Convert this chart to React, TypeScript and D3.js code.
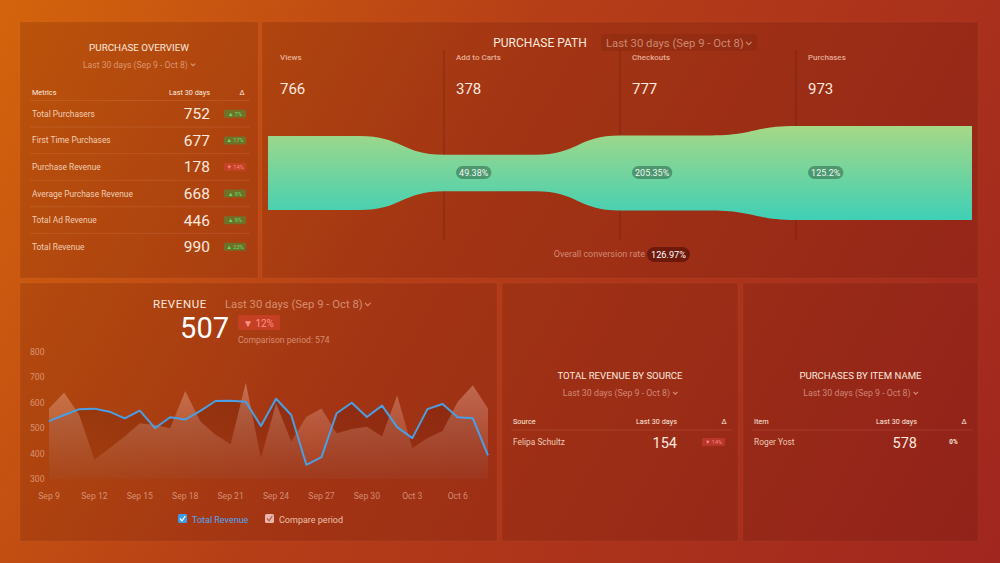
import React from 'react'
import * as d3 from 'd3'

// Purchase overview table
const overviewMetrics = ['Total Purchasers', 'First Time Purchases', 'Purchase Revenue', 'Average Purchase Revenue', 'Total Ad Revenue', 'Total Revenue']
const overviewValues = [752, 677, 178, 668, 446, 990]
const overviewDeltas = [7, 17, -14, 9, 9, 23]

// Purchase path funnel
const pathStages = ['Views', 'Add to Carts', 'Checkouts', 'Purchases']
const pathValues = [766, 378, 777, 973]
const pathRates = ['', '49.38%', '205.35%', '125.2%']
const overallRate = '126.97%'

// Revenue line chart (Sep 9 - Oct 8)
const revenueValues = [528, 552, 575, 577, 565, 539, 569, 500, 543, 534, 568, 607, 608, 604, 509, 616, 552, 356, 386, 559, 600, 544, 589, 504, 461, 575, 595, 543, 539, 393]
const compareValues = [578, 641, 552, 376, 421, 467, 519, 513, 500, 646, 526, 474, 437, 680, 382, 598, 448, 545, 578, 480, 497, 506, 467, 630, 421, 461, 489, 604, 669, 578]
const revenueTicks = [300, 400, 500, 600, 700, 800]
const dateTicks = ['Sep 9', 'Sep 12', 'Sep 15', 'Sep 18', 'Sep 21', 'Sep 24', 'Sep 27', 'Sep 30', 'Oct 3', 'Oct 6']

// Bottom tables
const sourceNames = ['Felipa Schultz']
const sourceValues = [154]
const sourceDeltas = [-14]
const itemNames = ['Roger Yost']
const itemValues = [578]
const itemDeltas = [0]

const FONT = 'Roboto, "Noto Sans", sans-serif'
const TXT = '#fbe9df'
const DIM = 'rgba(255,214,196,0.55)'
const RANGE_LABEL = 'Last 30 days (Sep 9 - Oct 8)'

const Chevron = ({ x, y, s = 3 }: { x: number; y: number; s?: number }) => (
  <path d={`M${x - s},${y - s / 2} L${x},${y + s / 2} L${x + s},${y - s / 2}`} fill="none" stroke={DIM} strokeWidth={1.1} />
)

// Date range selector; x is the center (anchor middle) or the start
const RangeLabel = ({ x, y, size, anchor = 'middle' }: { x: number; y: number; size: number; anchor?: 'middle' | 'start' }) => {
  const w = size * 12.1
  const start = anchor === 'middle' ? x - w / 2 - 4 : x
  return (
    <g>
      <text x={start} y={y} fontSize={size} fill={DIM} fontFamily={FONT}>{RANGE_LABEL}</text>
      <Chevron x={start + w + 6} y={y - size * 0.33} s={size * 0.25} />
    </g>
  )
}

const DeltaBadge = ({ x, y, d, w = 22, h = 8, fs = 5.5 }: { x: number; y: number; d: number; w?: number; h?: number; fs?: number }) => {
  if (d === 0) {
    return <text x={x + w / 2} y={y + fs * 0.35} fontSize={fs + 0.8} fontWeight={700} fill={TXT} textAnchor="middle" fontFamily={FONT}>0%</text>
  }
  const up = d > 0
  return (
    <g>
      <rect x={x} y={y - h / 2} width={w} height={h} rx={1} fill={up ? 'rgba(40,170,70,0.45)' : 'rgba(235,70,70,0.38)'} />
      <text x={x + w / 2} y={y + fs * 0.36} fontSize={fs} textAnchor="middle" fill={up ? '#5fe070' : '#ff8a86'} fontFamily={FONT}>
        {`${up ? '▲' : '▼'} ${Math.abs(d)}%`}
      </text>
    </g>
  )
}

const Panel = ({ x0, y0, x1, y1 }: { x0: number; y0: number; x1: number; y1: number }) => (
  <rect x={x0} y={y0} width={x1 - x0} height={y1 - y0} fill="rgba(70,12,4,0.17)" stroke="rgba(255,255,255,0.035)" />
)

const Overview = () => {
  const rowY = d3.scaleBand<number>().domain(d3.range(overviewMetrics.length)).range([100.5, 260]).padding(0)
  return (
    <g fontFamily={FONT}>
      <text x={139} y={50.5} textAnchor="middle" fontSize={9.8} fill={TXT}>PURCHASE OVERVIEW</text>
      <RangeLabel x={139} y={67.5} size={8.6} />
      <text x={32} y={95} fontSize={7.3} fill={TXT}>Metrics</text>
      <text x={210} y={95} fontSize={7.3} fill={TXT} textAnchor="end">Last 30 days</text>
      <text x={242} y={95} fontSize={7.3} fill={TXT} textAnchor="middle">Δ</text>
      {overviewMetrics.map((m, i) => {
        const y0 = rowY(i) ?? 0
        const cy = y0 + rowY.bandwidth() / 2
        return (
          <g key={m}>
            <line x1={30} x2={250} y1={y0} y2={y0} stroke="rgba(255,200,180,0.12)" />
            <text x={32} y={cy + 3} fontSize={8.4} fill="rgba(255,228,214,0.85)">{m}</text>
            <text x={210} y={cy + 5.5} fontSize={15.5} fill={TXT} textAnchor="end">{overviewValues[i]}</text>
            <DeltaBadge x={224} y={cy} d={overviewDeltas[i]} />
          </g>
        )
      })}
    </g>
  )
}

const PurchasePath = () => {
  const x = d3.scaleBand<string>().domain(pathStages).range([268, 972]).padding(0)
  const half = d3.scaleLinear().domain([0, d3.max(pathValues) ?? 1]).range([0, 47])
  const cy = 173
  const bw = x.bandwidth()
  // top edge then bottom edge back
  const p = d3.path()
  pathStages.forEach((s, i) => {
    const xs = x(s) ?? 0
    const h = half(pathValues[i])
    if (i === 0) p.moveTo(xs, cy - h)
    else {
      const prevH = half(pathValues[i - 1])
      const xa = xs - bw * 0.48
      const mid = (xa + xs) / 2
      p.bezierCurveTo(mid, cy - prevH, mid, cy - h, xs, cy - h)
    }
    if (i < pathStages.length - 1) p.lineTo(xs + bw * 0.52, cy - h)
    else p.lineTo(xs + bw, cy - h)
  })
  for (let i = pathStages.length - 1; i >= 0; i--) {
    const xs = x(pathStages[i]) ?? 0
    const h = half(pathValues[i])
    if (i === pathStages.length - 1) {
      p.lineTo(xs + bw, cy + h)
      p.lineTo(xs, cy + h)
    } else {
      const nextX = x(pathStages[i + 1]) ?? 0
      const nh = half(pathValues[i + 1])
      const xa = nextX - bw * 0.48
      const mid = (xa + nextX) / 2
      p.bezierCurveTo(mid, cy + nh, mid, cy + h, xa, cy + h)
      p.lineTo(xs, cy + h)
    }
  }
  p.closePath()
  const top = cy - half(d3.max(pathValues) ?? 0)
  const bot = cy + half(d3.max(pathValues) ?? 0)
  return (
    <g fontFamily={FONT}>
      <defs>
        <linearGradient id="funnelGrad" x1="0" x2="0" y1={top} y2={bot} gradientUnits="userSpaceOnUse">
          <stop offset="0%" stopColor="#a6d886" />
          <stop offset="100%" stopColor="#3fd0b6" />
        </linearGradient>
      </defs>
      <text x={540} y={47} textAnchor="middle" fontSize={12} fill={TXT}>PURCHASE PATH</text>
      <rect x={601} y={34} width={156} height={17} rx={3} fill="rgba(60,8,0,0.1)" />
      <RangeLabel x={606} y={47} size={11.3} anchor="start" />
      {pathStages.map((s, i) => {
        const xs = x(s) ?? 0
        return (
          <g key={s}>
            {i > 0 && <line x1={xs} x2={xs} y1={50} y2={240} stroke="rgba(60,10,0,0.35)" strokeWidth={0.8} />}
            <text x={xs + 12} y={60} fontSize={8} fontWeight={500} fill="rgba(255,215,195,0.75)">{s}</text>
            <text x={xs + 12} y={94} fontSize={15} fill={TXT}>{pathValues[i]}</text>
          </g>
        )
      })}
      <path d={p.toString()} fill="url(#funnelGrad)" />
      {pathStages.map((s, i) => {
        if (!pathRates[i]) return null
        const xs = (x(s) ?? 0) + 12
        const w = pathRates[i].length * 4.9 + 6
        return (
          <g key={`r${s}`}>
            <rect x={xs} y={166} width={w} height={13} rx={6.5} fill="rgba(50,110,80,0.6)" />
            <text x={xs + w / 2} y={175.5} fontSize={9} textAnchor="middle" fill="#eef8f0">{pathRates[i]}</text>
          </g>
        )
      })}
      <text x={645} y={257} fontSize={9} textAnchor="end" fill={DIM}>Overall conversion rate</text>
      <rect x={647} y={247} width={43} height={15} rx={7.5} fill="rgba(50,0,0,0.45)" />
      <text x={668.5} y={258} fontSize={9.2} textAnchor="middle" fill="#fff">{overallRate}</text>
    </g>
  )
}

const Revenue = () => {
  const days = d3.timeDay.range(new Date(2023, 8, 9), new Date(2023, 9, 9))
  const x = d3.scaleTime().domain([days[0], days[days.length - 1]]).range([49, 488])
  const y = d3.scaleLinear().domain([300, 800]).range([479, 352])
  const area = d3.area<number>().x((_, i) => x(days[i])).y0(y(300)).y1(d => y(d))
  const line = d3.line<number>().x((_, i) => x(days[i])).y(d => y(d))
  const fmt = d3.timeFormat('%b %-d')
  return (
    <g fontFamily={FONT}>
      <defs>
        <linearGradient id="cmpGrad" x1="0" x2="0" y1={y(700)} y2={y(300)} gradientUnits="userSpaceOnUse">
          <stop offset="0%" stopColor="#ffd2c4" stopOpacity={0.36} />
          <stop offset="100%" stopColor="#ffd2c4" stopOpacity={0.05} />
        </linearGradient>
        <linearGradient id="revGrad" x1="0" x2="0" y1={y(620)} y2={y(300)} gradientUnits="userSpaceOnUse">
          <stop offset="0%" stopColor="#3a0600" stopOpacity={0.2} />
          <stop offset="100%" stopColor="#3a0600" stopOpacity={0.06} />
        </linearGradient>
      </defs>
      <text x={153} y={308} fontSize={11.5} fill={TXT} letterSpacing={0.6}>REVENUE</text>
      <RangeLabel x={225} y={308} size={11.3} anchor="start" />
      <text x={229} y={338} fontSize={29} textAnchor="end" fill="#fff">507</text>
      <rect x={238} y={315} width={42} height={15} rx={1.5} fill="rgba(235,70,60,0.42)" />
      <text x={243} y={326.5} fontSize={10} fill="#ff8f86">▼ 12%</text>
      <text x={238} y={343} fontSize={8.6} fill={DIM}>Comparison period: 574</text>
      {revenueTicks.map(t => (
        <text key={t} x={30} y={y(t) + 3} fontSize={8.6} fill={DIM}>{t}</text>
      ))}
      {days.filter(d => dateTicks.includes(fmt(d))).map(d => (
        <text key={fmt(d)} x={x(d)} y={499} fontSize={8.6} textAnchor="middle" fill={DIM}>{fmt(d)}</text>
      ))}
      <path d={area(revenueValues) ?? ''} fill="url(#revGrad)" />
      <path d={area(compareValues) ?? ''} fill="url(#cmpGrad)" />
      <path d={line(revenueValues) ?? ''} fill="none" stroke="#4a9fe4" strokeWidth={2} strokeLinejoin="round" />
      <rect x={178} y={514} width={9} height={9} rx={1.5} fill="#3d9be9" />
      <path d="M180,518.5 L182,520.8 L185.3,516" fill="none" stroke="#fff" strokeWidth={1.2} />
      <text x={192} y={522.5} fontSize={9} fill="#4ea6f2">Total Revenue</text>
      <rect x={265} y={514} width={9} height={9} rx={1.5} fill="#e9b6ac" />
      <path d="M267,518.5 L269,520.8 L272.3,516" fill="none" stroke="#b85a48" strokeWidth={1.2} />
      <text x={279} y={522.5} fontSize={9} fill="rgba(255,225,212,0.8)">Compare period</text>
    </g>
  )
}

const SmallTable = ({ x0, x1, title, colName, names, values, deltas }: {
  x0: number; x1: number; title: string; colName: string; names: string[]; values: number[]; deltas: number[]
}) => {
  const cx = (x0 + x1) / 2
  const rowY = d3.scaleBand<number>().domain(d3.range(names.length)).range([430, 454])
  return (
    <g fontFamily={FONT}>
      <text x={cx} y={378.5} textAnchor="middle" fontSize={9.6} fill={TXT}>{title}</text>
      <RangeLabel x={cx} y={396} size={8.8} />
      <text x={x0 + 11} y={424} fontSize={7.3} fill={TXT}>{colName}</text>
      <text x={x1 - 61} y={424} fontSize={7.3} fill={TXT} textAnchor="end">Last 30 days</text>
      <text x={x1 - 14} y={424} fontSize={7.3} fill={TXT} textAnchor="middle">Δ</text>
      {names.map((n, i) => {
        const y0 = rowY(i) ?? 0
        const cy = y0 + rowY.bandwidth() / 2
        return (
          <g key={n}>
            <line x1={x0 + 9} x2={x1 - 5} y1={y0} y2={y0} stroke="rgba(255,200,180,0.12)" />
            <text x={x0 + 11} y={cy + 3} fontSize={8.4} fill="rgba(255,228,214,0.85)">{n}</text>
            <text x={x1 - 61} y={cy + 5.5} fontSize={14.5} fill={TXT} textAnchor="end">{values[i]}</text>
            <DeltaBadge x={x1 - 36} y={cy} d={deltas[i]} w={23} />
          </g>
        )
      })}
    </g>
  )
}

export default function App() {
  return (
    <div style={{ position: 'absolute', left: 0, top: 0, width: 1000, height: 563 }}>
      <svg width={1000} height={563} style={{ display: 'block' }}>
        <defs>
          <linearGradient id="bgGrad" x1="0" y1="0" x2="1000" y2="563" gradientUnits="userSpaceOnUse">
            <stop offset="0%" stopColor="#d4640c" />
            <stop offset="42%" stopColor="#b63e17" />
            <stop offset="100%" stopColor="#a0261f" />
          </linearGradient>
        </defs>
        <rect width={1000} height={563} fill="url(#bgGrad)" />
        <Panel x0={20} y0={22} x1={258} y1={278} />
        <Panel x0={262} y0={22} x1={978} y1={278} />
        <Panel x0={20} y0={283} x1={497} y1={541} />
        <Panel x0={502} y0={283} x1={738} y1={541} />
        <Panel x0={743} y0={283} x1={978} y1={541} />
        <Overview />
        <PurchasePath />
        <Revenue />
        <SmallTable x0={502} x1={738} title="TOTAL REVENUE BY SOURCE" colName="Source" names={sourceNames} values={sourceValues} deltas={sourceDeltas} />
        <SmallTable x0={743} x1={978} title="PURCHASES BY ITEM NAME" colName="Item" names={itemNames} values={itemValues} deltas={itemDeltas} />
      </svg>
    </div>
  )
}
